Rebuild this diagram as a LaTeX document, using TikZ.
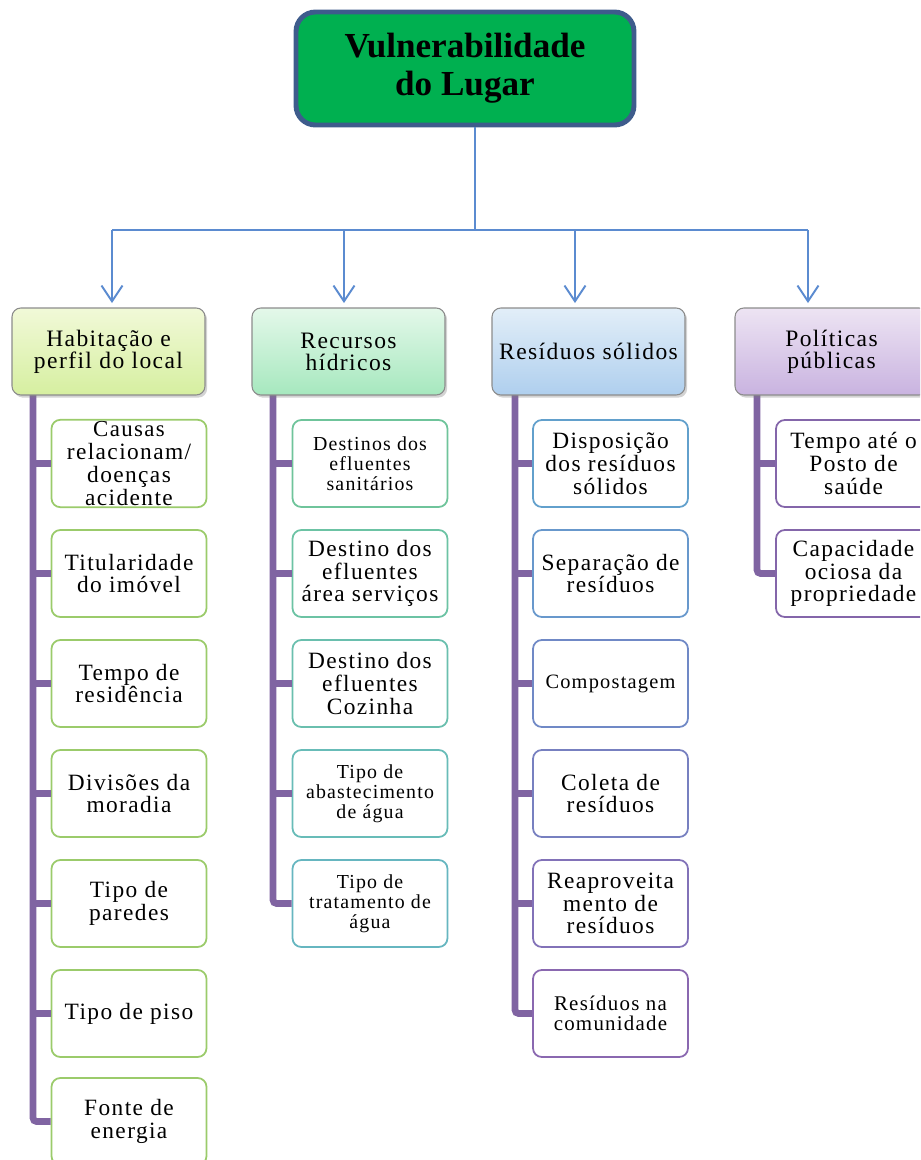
\documentclass[tikz,border=0pt]{standalone}
\usepackage{fontspec}
\setmainfont{Liberation Serif}[LetterSpace=6]
\usetikzlibrary{arrows.meta,shadows}

\definecolor{rootgreen}{HTML}{00B050}
\definecolor{rootedge}{HTML}{3E5C8C}
\definecolor{linkblue}{HTML}{5B8BD0}
\definecolor{barpurple}{HTML}{8064A2}
\definecolor{catedge}{HTML}{8C8C8C}
\definecolor{habedge}{HTML}{9BCB6B}
\definecolor{recedgeA}{HTML}{6FC49B}
\definecolor{recedgeB}{HTML}{6CC3A4}
\definecolor{recedgeC}{HTML}{6ABFAE}
\definecolor{recedgeD}{HTML}{68BCB8}
\definecolor{recedgeE}{HTML}{66B6C0}
\definecolor{resedgeA}{HTML}{62A0CC}
\definecolor{resedgeB}{HTML}{6898CC}
\definecolor{resedgeC}{HTML}{7089C6}
\definecolor{resedgeD}{HTML}{7780C0}
\definecolor{resedgeE}{HTML}{8272B8}
\definecolor{resedgeF}{HTML}{8A68B0}
\definecolor{poledge}{HTML}{8466AA}
\definecolor{habtop}{HTML}{F1F9D8}
\definecolor{habbot}{HTML}{D6EFA0}
\definecolor{rectop}{HTML}{E4F8EA}
\definecolor{recbot}{HTML}{A6E8BE}
\definecolor{restop}{HTML}{E2EEF8}
\definecolor{resbot}{HTML}{AFCFEE}
\definecolor{poltop}{HTML}{EDE4F3}
\definecolor{polbot}{HTML}{C9B3E0}

\tikzset{
  rootbox/.style={draw=rootedge, line width=2.8pt, fill=rootgreen, rounded corners=11pt,
    minimum width=6.76cm, minimum height=2.26cm, align=center,
    font=\bfseries\fontsize{20}{21.5}\selectfont\addfontfeatures{LetterSpace=0}},
  catbox/.style={draw=catedge, line width=0.6pt, rounded corners=5pt,
    minimum width=3.86cm, minimum height=1.74cm, align=center, inner sep=1pt,
    font=\fontsize{13.4}{12.5}\selectfont,
    drop shadow={shadow xshift=1.2pt, shadow yshift=-1.5pt, opacity=0.35}},
  leafbox/.style={draw=#1, line width=1pt, fill=white, rounded corners=5pt,
    minimum width=3.1cm, minimum height=1.74cm, align=center, inner sep=1pt,
    font=\fontsize{13.3}{13}\selectfont},
  leafsmall/.style={font=\fontsize{11.3}{11.5}\selectfont},
  link/.style={linkblue, line width=1.1pt},
  purplebar/.style={barpurple, line width=3.8pt, rounded corners=2pt},
}

\begin{document}
\begin{tikzpicture}[x=0.02cm, y=-0.02cm]
\useasboundingbox (0,0) rectangle (920,1160);
\clip (0,0) rectangle (920,1160);

% top
\node[rootbox] (root) at (465,68.5) {Vulnerabilidade\\do Lugar};

\coordinate (split) at (475,230);
\coordinate (a1) at (112,230);
\coordinate (a2) at (344,230);
\coordinate (a3) at (575,230);
\coordinate (a4) at (808,230);

% purple bars first, boxes on top
\coordinate (habbar) at (33,390);
\coordinate (recbar) at (273,390);
\coordinate (resbar) at (515,390);
\coordinate (polbar) at (757,390);

% leaves
\node[leafbox=habedge] (hab1) at (129,463.5) {\fontsize{13}{12.5}\selectfont Causas\\relacionam/\\doenças\\acidente};
\node[leafbox=habedge] (hab2) at (129,573.5) {Titularidade\\do imóvel};
\node[leafbox=habedge] (hab3) at (129,683.5) {Tempo de\\residência};
\node[leafbox=habedge] (hab4) at (129,793.5) {Divisões da\\moradia};
\node[leafbox=habedge] (hab5) at (129,903.5) {Tipo de\\paredes};
\node[leafbox=habedge] (hab6) at (129,1013.5) {Tipo de piso};
\node[leafbox=habedge] (hab7) at (129,1121.5) {Fonte de\\energia};

\node[leafbox=recedgeA, leafsmall] (rec1) at (370,463.5) {Destinos dos\\efluentes\\sanitários};
\node[leafbox=recedgeB] (rec2) at (370,573.5) {Destino dos\\efluentes\\área serviços};
\node[leafbox=recedgeC] (rec3) at (370,683.5) {Destino dos\\efluentes\\Cozinha};
\node[leafbox=recedgeD, leafsmall] (rec4) at (370,793.5) {Tipo de\\abastecimento\\de água};
\node[leafbox=recedgeE, leafsmall] (rec5) at (370,903.5) {Tipo de\\tratamento de\\água};

\node[leafbox=resedgeA] (res1) at (610.5,463.5) {Disposição\\dos resíduos\\sólidos};
\node[leafbox=resedgeB] (res2) at (610.5,573.5) {Separação de\\resíduos};
\node[leafbox=resedgeC, font=\fontsize{11.6}{12}\selectfont] (res3) at (610.5,683.5) {Compostagem};
\node[leafbox=resedgeD] (res4) at (610.5,793.5) {Coleta de\\resíduos};
\node[leafbox=resedgeE] (res5) at (610.5,903.5) {Reaproveita\\mento de\\resíduos};
\node[leafbox=resedgeF, font=\fontsize{11.9}{11.5}\selectfont] (res6) at (610.5,1013.5) {Resíduos na\\comunidade};

\node[leafbox=poledge] (pol1) at (853.5,463.5) {Tempo até o\\Posto de\\saúde};
\node[leafbox=poledge] (pol2) at (853.5,573.5) {Capacidade\\ociosa da\\propriedade};

% bars
\draw[purplebar] (habbar) |- (hab7.west);
\draw[purplebar] (recbar) |- (rec5.west);
\draw[purplebar] (resbar) |- (res6.west);
\draw[purplebar] (polbar) |- (pol2.west);
\foreach \i in {1,...,6} \draw[barpurple, line width=3.8pt] (habbar |- hab\i.west) -- (hab\i.west);
\foreach \i in {1,...,4} \draw[barpurple, line width=3.8pt] (recbar |- rec\i.west) -- (rec\i.west);
\foreach \i in {1,...,5} \draw[barpurple, line width=3.8pt] (resbar |- res\i.west) -- (res\i.west);
\draw[barpurple, line width=3.8pt] (polbar |- pol1.west) -- (pol1.west);

% categories
\node[catbox, top color=habtop, bottom color=habbot] (hab) at (108.5,351.5) {Habitação e\\perfil do local};
\node[catbox, top color=rectop, bottom color=recbot] (rec) at (348.5,351.5) {Recursos\\hídricos};
\node[catbox, top color=restop, bottom color=resbot] (res) at (588.5,351.5) {Resíduos sólidos};
\node[catbox, top color=poltop, bottom color=polbot] (pol) at (831.5,351.5) {Políticas\\públicas};

% links
\draw[link] (split |- root.south) -- (split);
\draw[link] (a1) -- (a4);
\draw[link, -{Straight Barb[length=9pt,width=12pt]}, shorten >=2.5pt] (a1) -- (a1 |- hab.north);
\draw[link, -{Straight Barb[length=9pt,width=12pt]}, shorten >=2.5pt] (a2) -- (a2 |- rec.north);
\draw[link, -{Straight Barb[length=9pt,width=12pt]}, shorten >=2.5pt] (a3) -- (a3 |- res.north);
\draw[link, -{Straight Barb[length=9pt,width=12pt]}, shorten >=2.5pt] (a4) -- (a4 |- pol.north);
\end{tikzpicture}
\end{document}
